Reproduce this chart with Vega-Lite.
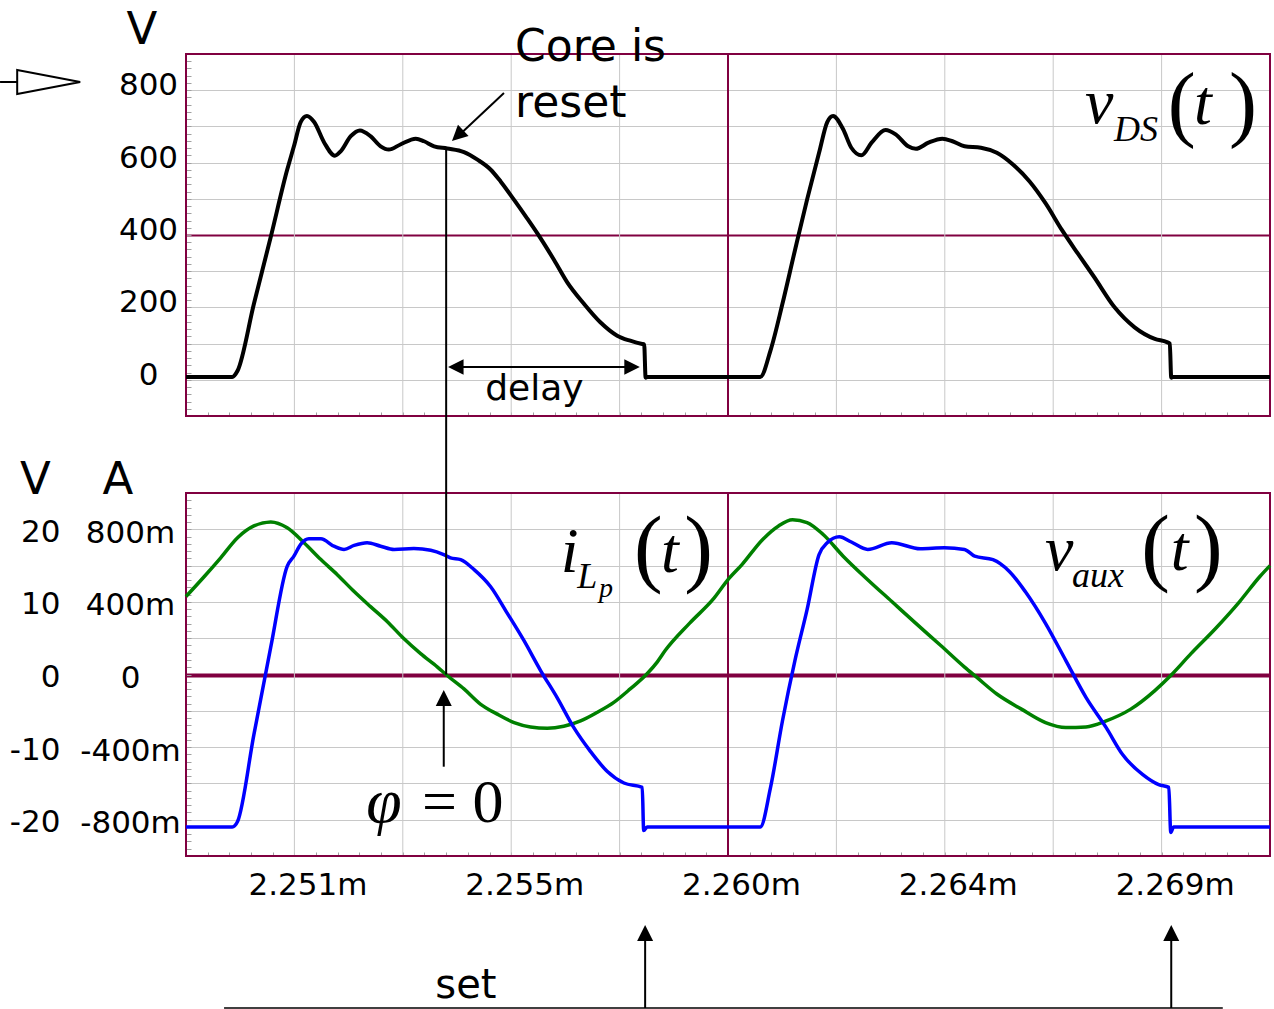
{
  "$schema": "https://vega.github.io/schema/vega-lite/v6.json",
  "width": 1084,
  "height": 802,
  "autosize": {"type": "none"},
  "padding": {"left": 186, "top": 54, "right": 4, "bottom": 153},
  "background": "white",
  "config": {"view": {"stroke": null}},
  "datasets": {
    "vgrid": [{"t": 2251}, {"t": 2253.25}, {"t": 2255.5}, {"t": 2257.75}, {"t": 2262.25}, {"t": 2264.5}, {"t": 2266.75}, {"t": 2269}],
    "center": [{"t": 2260}],
    "vds": [
      {"t": 2248.75, "v": 8}, {"t": 2249.71, "v": 8}, {"t": 2249.82, "v": 25}, {"t": 2250.16, "v": 210}, {"t": 2250.51, "v": 395}, {"t": 2250.85, "v": 580}, {"t": 2250.99, "v": 645}, {"t": 2251.13, "v": 712}, {"t": 2251.26, "v": 729}, {"t": 2251.41, "v": 712}, {"t": 2251.62, "v": 655}, {"t": 2251.84, "v": 619}, {"t": 2251.96, "v": 631}, {"t": 2252.17, "v": 673}, {"t": 2252.36, "v": 689}, {"t": 2252.58, "v": 673}, {"t": 2252.79, "v": 645}, {"t": 2252.96, "v": 636}, {"t": 2253.2, "v": 650}, {"t": 2253.52, "v": 666}, {"t": 2253.69, "v": 659}, {"t": 2253.9, "v": 645}, {"t": 2254.17, "v": 639}, {"t": 2254.52, "v": 629}, {"t": 2254.8, "v": 608}, {"t": 2255.07, "v": 581}, {"t": 2255.28, "v": 548}, {"t": 2255.56, "v": 497}, {"t": 2255.83, "v": 446}, {"t": 2256.04, "v": 405}, {"t": 2256.39, "v": 331}, {"t": 2256.66, "v": 270}, {"t": 2257.01, "v": 210}, {"t": 2257.35, "v": 159}, {"t": 2257.7, "v": 122}, {"t": 2257.97, "v": 108}, {"t": 2258.22, "v": 99}, {"t": 2258.26, "v": 98}, {"t": 2258.29, "v": 6}, {"t": 2258.33, "v": 8},
      {"t": 2260.67, "v": 8}, {"t": 2260.88, "v": 80}, {"t": 2261.13, "v": 210}, {"t": 2261.39, "v": 358}, {"t": 2261.64, "v": 497}, {"t": 2261.89, "v": 627}, {"t": 2262.06, "v": 712}, {"t": 2262.18, "v": 729}, {"t": 2262.39, "v": 692}, {"t": 2262.56, "v": 641}, {"t": 2262.77, "v": 620}, {"t": 2262.98, "v": 655}, {"t": 2263.27, "v": 690}, {"t": 2263.48, "v": 678}, {"t": 2263.74, "v": 645}, {"t": 2263.9, "v": 638}, {"t": 2264.16, "v": 655}, {"t": 2264.45, "v": 666}, {"t": 2264.66, "v": 659}, {"t": 2264.91, "v": 645}, {"t": 2265.25, "v": 641}, {"t": 2265.58, "v": 627}, {"t": 2265.92, "v": 594}, {"t": 2266.26, "v": 548}, {"t": 2266.59, "v": 488}, {"t": 2266.93, "v": 414}, {"t": 2267.26, "v": 349}, {"t": 2267.6, "v": 284}, {"t": 2268.02, "v": 201}, {"t": 2268.44, "v": 145}, {"t": 2268.86, "v": 113}, {"t": 2269.11, "v": 104}, {"t": 2269.17, "v": 100}, {"t": 2269.2, "v": 6}, {"t": 2269.24, "v": 8}, {"t": 2271.25, "v": 8}
    ],
    "ilp": [
      {"t": 2248.75, "i": -0.84}, {"t": 2249.71, "i": -0.84}, {"t": 2249.82, "i": -0.81}, {"t": 2250.16, "i": -0.33}, {"t": 2250.51, "i": 0.152}, {"t": 2250.85, "i": 0.596}, {"t": 2250.99, "i": 0.652}, {"t": 2251.13, "i": 0.717}, {"t": 2251.3, "i": 0.748}, {"t": 2251.55, "i": 0.748}, {"t": 2251.82, "i": 0.707}, {"t": 2252.03, "i": 0.689}, {"t": 2252.24, "i": 0.711}, {"t": 2252.51, "i": 0.726}, {"t": 2252.79, "i": 0.707}, {"t": 2253.07, "i": 0.689}, {"t": 2253.48, "i": 0.694}, {"t": 2253.83, "i": 0.685}, {"t": 2254.1, "i": 0.661}, {"t": 2254.24, "i": 0.643}, {"t": 2254.45, "i": 0.633}, {"t": 2254.73, "i": 0.578}, {"t": 2255.07, "i": 0.485}, {"t": 2255.42, "i": 0.337}, {"t": 2255.76, "i": 0.189}, {"t": 2256.11, "i": 0.022}, {"t": 2256.45, "i": -0.126}, {"t": 2256.8, "i": -0.293}, {"t": 2257.14, "i": -0.422}, {"t": 2257.49, "i": -0.533}, {"t": 2257.84, "i": -0.598}, {"t": 2258.22, "i": -0.622}, {"t": 2258.25, "i": -0.86}, {"t": 2258.32, "i": -0.84},
      {"t": 2260.67, "i": -0.84}, {"t": 2260.88, "i": -0.626}, {"t": 2261.13, "i": -0.256}, {"t": 2261.39, "i": 0.078}, {"t": 2261.64, "i": 0.356}, {"t": 2261.89, "i": 0.661}, {"t": 2262.06, "i": 0.726}, {"t": 2262.31, "i": 0.759}, {"t": 2262.56, "i": 0.73}, {"t": 2262.9, "i": 0.689}, {"t": 2263.4, "i": 0.726}, {"t": 2263.99, "i": 0.693}, {"t": 2264.49, "i": 0.698}, {"t": 2264.91, "i": 0.689}, {"t": 2265.12, "i": 0.652}, {"t": 2265.5, "i": 0.633}, {"t": 2265.84, "i": 0.568}, {"t": 2266.17, "i": 0.457}, {"t": 2266.59, "i": 0.282}, {"t": 2267.01, "i": 0.078}, {"t": 2267.43, "i": -0.126}, {"t": 2267.85, "i": -0.293}, {"t": 2268.19, "i": -0.441}, {"t": 2268.61, "i": -0.552}, {"t": 2268.94, "i": -0.607}, {"t": 2269.15, "i": -0.622}, {"t": 2269.19, "i": -0.87}, {"t": 2269.25, "i": -0.84}, {"t": 2271.25, "i": -0.84}
    ],
    "vaux": [
      {"t": 2248.75, "v": 10.74}, {"t": 2249.13, "v": 13.5}, {"t": 2249.47, "v": 16.07}, {"t": 2249.82, "v": 18.84}, {"t": 2250.16, "v": 20.46}, {"t": 2250.51, "v": 21.0}, {"t": 2250.85, "v": 20.2}, {"t": 2251.2, "v": 18.15}, {"t": 2251.55, "v": 15.83}, {"t": 2251.89, "v": 13.75}, {"t": 2252.24, "v": 11.43}, {"t": 2252.58, "v": 9.35}, {"t": 2252.93, "v": 7.27}, {"t": 2253.27, "v": 4.95}, {"t": 2253.62, "v": 2.87}, {"t": 2253.97, "v": 1.02}, {"t": 2254.17, "v": -0.14}, {"t": 2254.52, "v": -1.99}, {"t": 2254.86, "v": -4.07}, {"t": 2255.21, "v": -5.46}, {"t": 2255.56, "v": -6.62}, {"t": 2255.9, "v": -7.22}, {"t": 2256.25, "v": -7.41}, {"t": 2256.59, "v": -7.13}, {"t": 2256.94, "v": -6.39}, {"t": 2257.28, "v": -5.23}, {"t": 2257.63, "v": -3.84}, {"t": 2257.97, "v": -1.99}, {"t": 2258.32, "v": 0.1}, {"t": 2258.53, "v": 1.71}, {"t": 2258.7, "v": 3.33}, {"t": 2259.2, "v": 7.04}, {"t": 2259.71, "v": 10.51}, {"t": 2260.0, "v": 13.06}, {"t": 2260.29, "v": 15.14}, {"t": 2260.72, "v": 18.6}, {"t": 2261.05, "v": 20.46}, {"t": 2261.34, "v": 21.3}, {"t": 2261.64, "v": 20.93}, {"t": 2261.97, "v": 19.31}, {"t": 2262.39, "v": 16.3}, {"t": 2262.9, "v": 13.06}, {"t": 2263.4, "v": 10.05}, {"t": 2263.9, "v": 7.04}, {"t": 2264.41, "v": 4.03}, {"t": 2264.91, "v": 1.02}, {"t": 2265.16, "v": -0.37}, {"t": 2265.58, "v": -2.69}, {"t": 2266.09, "v": -4.77}, {"t": 2266.59, "v": -6.62}, {"t": 2267.01, "v": -7.31}, {"t": 2267.43, "v": -7.22}, {"t": 2267.85, "v": -6.39}, {"t": 2268.36, "v": -4.77}, {"t": 2268.86, "v": -2.22}, {"t": 2269.19, "v": -0.14}, {"t": 2269.61, "v": 2.87}, {"t": 2270.12, "v": 6.34}, {"t": 2270.62, "v": 10.05}, {"t": 2271.04, "v": 13.5}, {"t": 2271.25, "v": 15.0}
    ]
  },
  "layer": [
    {
      "data": {"name": "vgrid"},
      "mark": {"type": "rule", "color": "#c8c8c8", "strokeWidth": 1},
      "encoding": {
        "x": {"field": "t", "type": "quantitative", "scale": {"domain": [2248.75, 2271.25], "nice": false, "zero": false}, "axis": null},
        "y": {"datum": -100, "type": "quantitative", "scale": {"domain": [-100, 900], "range": [362, 0], "nice": false, "zero": false}, "axis": null},
        "y2": {"datum": 900}
      }
    },
    {
      "data": {"name": "vgrid"},
      "mark": {"type": "rule", "color": "#c8c8c8", "strokeWidth": 1},
      "encoding": {
        "x": {"field": "t", "type": "quantitative", "scale": {"domain": [2248.75, 2271.25], "nice": false, "zero": false}, "axis": null},
        "y": {"datum": -25, "type": "quantitative", "scale": {"domain": [-25, 25], "range": [802, 439], "nice": false, "zero": false}, "axis": null},
        "y2": {"datum": 25}
      }
    },
    {
      "data": {"name": "center"},
      "mark": {"type": "rule", "color": "#800040", "strokeWidth": 2},
      "encoding": {
        "x": {"field": "t", "type": "quantitative", "scale": {"domain": [2248.75, 2271.25], "nice": false, "zero": false}, "axis": null},
        "y": {"datum": -100, "type": "quantitative", "scale": {"domain": [-100, 900], "range": [362, 0], "nice": false, "zero": false}, "axis": null},
        "y2": {"datum": 900}
      }
    },
    {
      "data": {"name": "center"},
      "mark": {"type": "rule", "color": "#800040", "strokeWidth": 2},
      "encoding": {
        "x": {"field": "t", "type": "quantitative", "scale": {"domain": [2248.75, 2271.25], "nice": false, "zero": false}, "axis": null},
        "y": {"datum": -25, "type": "quantitative", "scale": {"domain": [-25, 25], "range": [802, 439], "nice": false, "zero": false}, "axis": null},
        "y2": {"datum": 25}
      }
    },
    {
      "data": {"values": [{}]},
      "mark": {"type": "rect", "fill": "transparent", "stroke": "#800040", "strokeWidth": 2},
      "encoding": {
        "x": {"datum": 2248.75, "type": "quantitative", "scale": {"domain": [2248.75, 2271.25], "nice": false, "zero": false}, "axis": null},
        "x2": {"datum": 2271.25},
        "y": {"datum": -100, "type": "quantitative", "scale": {"domain": [-100, 900], "range": [362, 0], "nice": false, "zero": false}, "axis": null},
        "y2": {"datum": 900}
      }
    },
    {
      "data": {"values": [{}]},
      "mark": {"type": "rect", "fill": "transparent", "stroke": "#800040", "strokeWidth": 2},
      "encoding": {
        "x": {"datum": 2248.75, "type": "quantitative", "scale": {"domain": [2248.75, 2271.25], "nice": false, "zero": false}, "axis": null},
        "x2": {"datum": 2271.25},
        "y": {"datum": -25, "type": "quantitative", "scale": {"domain": [-25, 25], "range": [802, 439], "nice": false, "zero": false}, "axis": null},
        "y2": {"datum": 25}
      }
    },
    {
      "data": {"name": "vds"},
      "mark": {"type": "line", "color": "black", "strokeWidth": 4, "strokeJoin": "round", "interpolate": "monotone"},
      "encoding": {
        "x": {"field": "t", "type": "quantitative", "scale": {"domain": [2248.75, 2271.25], "nice": false, "zero": false},
          "axis": {"orient": "bottom", "offset": -440, "values": [2248.75, 2249.2, 2249.65, 2250.1, 2250.55, 2251, 2251.45, 2251.9, 2252.35, 2252.8, 2253.25, 2253.7, 2254.15, 2254.6, 2255.05, 2255.5, 2255.95, 2256.4, 2256.85, 2257.3, 2257.75, 2258.2, 2258.65, 2259.1, 2259.55, 2260, 2260.45, 2260.9, 2261.35, 2261.8, 2262.25, 2262.7, 2263.15, 2263.6, 2264.05, 2264.5, 2264.95, 2265.4, 2265.85, 2266.3, 2266.75, 2267.2, 2267.65, 2268.1, 2268.55, 2269, 2269.45, 2269.9, 2270.35, 2270.8, 2271.25], "labels": false, "domain": false, "grid": false, "ticks": true, "tickSize": -4, "tickColor": "#a0a0a0", "tickWidth": 1, "title": null}},
        "y": {"field": "v", "type": "quantitative", "scale": {"domain": [-100, 900], "range": [362, 0], "nice": false, "zero": false},
          "axis": {"orient": "left", "values": [-100, -80, -60, -40, -20, 0, 20, 40, 60, 80, 100, 120, 140, 160, 180, 200, 220, 240, 260, 280, 300, 320, 340, 360, 380, 400, 420, 440, 460, 480, 500, 520, 540, 560, 580, 600, 620, 640, 660, 680, 700, 720, 740, 760, 780, 800, 820, 840, 860, 880, 900],
            "domain": false, "ticks": true, "tickSize": -5, "tickColor": "#a0a0a0", "tickWidth": 1,
            "grid": true,
            "gridColor": {"condition": {"test": "datum.value === 400", "value": "#800040"}, "value": "#c8c8c8"},
            "gridWidth": {"condition": {"test": "datum.value === 400", "value": 2}, "value": 1},
            "gridOpacity": {"condition": {"test": "datum.value % 100 === 0", "value": 1}, "value": 0},
            "labelExpr": "datum.value >= 0 && datum.value <= 800 && datum.value % 200 === 0 ? '' + datum.value : ''",
            "labelAlign": "center", "labelBaseline": "middle", "labelPadding": 43, "labelOffset": -4.5,
            "labelFont": "DejaVu Sans", "labelFontSize": 31, "labelColor": "black", "labelOverlap": false, "labelFlush": false,
            "title": "V", "titleAngle": 0, "titleX": -44.5, "titleY": -11, "titleAlign": "center", "titleBaseline": "alphabetic",
            "titleFont": "DejaVu Sans", "titleFontSize": 45, "titleFontWeight": "normal", "titleColor": "black"}}
      }
    },
    {
      "data": {"name": "vaux"},
      "mark": {"type": "line", "color": "#008000", "strokeWidth": 3.5, "strokeJoin": "round", "interpolate": "monotone"},
      "encoding": {
        "x": {"field": "t", "type": "quantitative", "scale": {"domain": [2248.75, 2271.25], "nice": false, "zero": false},
          "axis": {"orient": "bottom", "offset": 0, "values": [2248.75, 2249.2, 2249.65, 2250.1, 2250.55, 2251, 2251.45, 2251.9, 2252.35, 2252.8, 2253.25, 2253.7, 2254.15, 2254.6, 2255.05, 2255.5, 2255.95, 2256.4, 2256.85, 2257.3, 2257.75, 2258.2, 2258.65, 2259.1, 2259.55, 2260, 2260.45, 2260.9, 2261.35, 2261.8, 2262.25, 2262.7, 2263.15, 2263.6, 2264.05, 2264.5, 2264.95, 2265.4, 2265.85, 2266.3, 2266.75, 2267.2, 2267.65, 2268.1, 2268.55, 2269, 2269.45, 2269.9, 2270.35, 2270.8, 2271.25],
            "domain": false, "grid": false, "ticks": true, "tickSize": -4, "tickColor": "#a0a0a0", "tickWidth": 1,
            "labelExpr": "indexof([2251, 2255.5, 2260, 2264.5, 2269], datum.value) >= 0 ? format(floor(datum.value + 0.001) / 1000, '.3f') + 'm' : ''",
            "labelAlign": "center", "labelBaseline": "alphabetic", "labelPadding": 42, "labelOffset": 13,
            "labelFont": "DejaVu Sans", "labelFontSize": 31, "labelColor": "black", "labelOverlap": false, "labelFlush": false, "title": null}},
        "y": {"field": "v", "type": "quantitative", "scale": {"domain": [-25, 25], "range": [802, 439], "nice": false, "zero": false},
          "axis": {"orient": "left", "values": [-25, -24, -23, -22, -21, -20, -19, -18, -17, -16, -15, -14, -13, -12, -11, -10, -9, -8, -7, -6, -5, -4, -3, -2, -1, 0, 1, 2, 3, 4, 5, 6, 7, 8, 9, 10, 11, 12, 13, 14, 15, 16, 17, 18, 19, 20, 21, 22, 23, 24, 25],
            "domain": false, "ticks": true, "tickSize": -5, "tickColor": "#a0a0a0", "tickWidth": 1,
            "grid": true,
            "gridColor": {"condition": {"test": "datum.value === 0", "value": "#800040"}, "value": "#c8c8c8"},
            "gridWidth": {"condition": {"test": "datum.value === 0", "value": 4}, "value": 1},
            "gridOpacity": {"condition": {"test": "datum.value % 5 === 0", "value": 1}, "value": 0},
            "labelExpr": "datum.value % 10 === 0 && abs(datum.value) <= 20 ? (datum.value < 0 ? '-' : '') + abs(datum.value) : ''",
            "labelAlign": "right", "labelBaseline": "middle", "labelPadding": 131, "labelOffset": 3,
            "labelFont": "DejaVu Sans", "labelFontSize": 31, "labelColor": "black", "labelOverlap": false, "labelFlush": false,
            "title": "V", "titleAngle": 0, "titleX": -151, "titleY": 439, "titleAlign": "center", "titleBaseline": "alphabetic",
            "titleFont": "DejaVu Sans", "titleFontSize": 45, "titleFontWeight": "normal", "titleColor": "black"}}
      }
    },
    {
      "data": {"name": "ilp"},
      "mark": {"type": "line", "color": "#0000ff", "strokeWidth": 3.5, "strokeJoin": "round", "interpolate": "monotone"},
      "encoding": {
        "x": {"field": "t", "type": "quantitative", "scale": {"domain": [2248.75, 2271.25], "nice": false, "zero": false}, "axis": null},
        "y": {"field": "i", "type": "quantitative", "scale": {"domain": [-1, 1], "range": [802, 439], "nice": false, "zero": false},
          "axis": {"orient": "left", "values": [-0.8, -0.4, 0, 0.4, 0.8], "domain": false, "ticks": false, "tickSize": 0, "grid": false,
            "labelExpr": "datum.value === 0 ? '0' : (datum.value < 0 ? '-' : '') + format(abs(datum.value) * 1000, 'd') + 'm'",
            "labelAlign": "center", "labelBaseline": "middle", "labelPadding": 56, "labelOffset": 4,
            "labelFont": "DejaVu Sans", "labelFontSize": 31, "labelColor": "black", "labelOverlap": false, "labelFlush": false,
            "title": "A", "titleAngle": 0, "titleX": -68.5, "titleY": 439, "titleAlign": "center", "titleBaseline": "alphabetic",
            "titleFont": "DejaVu Sans", "titleFontSize": 45, "titleFontWeight": "normal", "titleColor": "black"}}
      }
    },
    {
      "data": {"values": [{"t": 2255.35, "v": 792.3, "t2": 2254.4, "v2": 673.5}, {"t": 2254.3, "v": 35.4, "t2": 2258.05, "v2": 35.4}, {"t": 2244.89, "v": 822.7, "t2": 2245.3, "v2": 822.7}]},
      "mark": {"type": "rule", "color": "black", "strokeWidth": 2},
      "encoding": {
        "x": {"field": "t", "type": "quantitative", "scale": {"domain": [2248.75, 2271.25], "nice": false, "zero": false}, "axis": null},
        "x2": {"field": "t2"},
        "y": {"field": "v", "type": "quantitative", "scale": {"domain": [-100, 900], "range": [362, 0], "nice": false, "zero": false}, "axis": null},
        "y2": {"field": "v2"}
      }
    },
    {
      "data": {"values": [{"t": 2254.27, "v": 659.7, "dir": 227}, {"t": 2254.19, "v": 35.4, "dir": 270}, {"t": 2258.17, "v": 35.4, "dir": 90}]},
      "mark": {"type": "point", "shape": "M0,0L-0.5,1L0.5,1Z", "filled": true, "color": "black", "size": 961, "opacity": 1, "strokeWidth": 0},
      "encoding": {
        "x": {"field": "t", "type": "quantitative", "scale": {"domain": [2248.75, 2271.25], "nice": false, "zero": false}, "axis": null},
        "y": {"field": "v", "type": "quantitative", "scale": {"domain": [-100, 900], "range": [362, 0], "nice": false, "zero": false}, "axis": null},
        "angle": {"field": "dir", "type": "quantitative", "scale": null}
      }
    },
    {
      "data": {"values": [{"t": 2245.9, "v": 822.7}]},
      "mark": {"type": "point", "shape": "M-1,-0.381L1,0L-1,0.381Z", "size": 3969, "fill": "white", "stroke": "black", "strokeWidth": 2, "opacity": 1, "fillOpacity": 1},
      "encoding": {
        "x": {"field": "t", "type": "quantitative", "scale": {"domain": [2248.75, 2271.25], "nice": false, "zero": false}, "axis": null},
        "y": {"field": "v", "type": "quantitative", "scale": {"domain": [-100, 900], "range": [362, 0], "nice": false, "zero": false}, "axis": null}
      }
    },
    {
      "data": {"values": [{"t": 2255.58, "v": 880.7, "label": "Core is"}, {"t": 2255.58, "v": 726.0, "label": "reset"}]},
      "mark": {"type": "text", "align": "left", "baseline": "alphabetic", "font": "DejaVu Sans", "fontSize": 44, "color": "black"},
      "encoding": {
        "x": {"field": "t", "type": "quantitative", "scale": {"domain": [2248.75, 2271.25], "nice": false, "zero": false}, "axis": null},
        "y": {"field": "v", "type": "quantitative", "scale": {"domain": [-100, 900], "range": [362, 0], "nice": false, "zero": false}, "axis": null},
        "text": {"field": "label"}
      }
    },
    {
      "data": {"values": [{"t": 2255.98, "v": -55.8, "label": "delay"}]},
      "mark": {"type": "text", "align": "center", "baseline": "alphabetic", "font": "DejaVu Sans", "fontSize": 36, "color": "black"},
      "encoding": {
        "x": {"field": "t", "type": "quantitative", "scale": {"domain": [2248.75, 2271.25], "nice": false, "zero": false}, "axis": null},
        "y": {"field": "v", "type": "quantitative", "scale": {"domain": [-100, 900], "range": [362, 0], "nice": false, "zero": false}, "axis": null},
        "text": {"field": "label"}
      }
    },
    {
      "data": {"values": [{"t": 2267.41, "v": 709.4, "label": "v"}, {"t": 2269.67, "v": 706.6, "label": "t"}]},
      "mark": {"type": "text", "align": "left", "baseline": "alphabetic", "font": "Liberation Serif", "fontStyle": "italic", "fontSize": 64, "color": "black"},
      "encoding": {
        "x": {"field": "t", "type": "quantitative", "scale": {"domain": [2248.75, 2271.25], "nice": false, "zero": false}, "axis": null},
        "y": {"field": "v", "type": "quantitative", "scale": {"domain": [-100, 900], "range": [362, 0], "nice": false, "zero": false}, "axis": null},
        "text": {"field": "label"}
      }
    },
    {
      "data": {"values": [{"t": 2268.01, "v": 659.7, "label": "DS"}]},
      "mark": {"type": "text", "align": "left", "baseline": "alphabetic", "font": "Liberation Serif", "fontStyle": "italic", "fontSize": 36, "color": "black"},
      "encoding": {
        "x": {"field": "t", "type": "quantitative", "scale": {"domain": [2248.75, 2271.25], "nice": false, "zero": false}, "axis": null},
        "y": {"field": "v", "type": "quantitative", "scale": {"domain": [-100, 900], "range": [362, 0], "nice": false, "zero": false}, "axis": null},
        "text": {"field": "label"}
      }
    },
    {
      "data": {"values": [{"t": 2269.13, "v": 687.3, "label": "("}, {"t": 2270.4, "v": 687.3, "label": ")"}]},
      "mark": {"type": "text", "align": "left", "baseline": "alphabetic", "font": "Liberation Serif", "fontSize": 84, "color": "black"},
      "encoding": {
        "x": {"field": "t", "type": "quantitative", "scale": {"domain": [2248.75, 2271.25], "nice": false, "zero": false}, "axis": null},
        "y": {"field": "v", "type": "quantitative", "scale": {"domain": [-100, 900], "range": [362, 0], "nice": false, "zero": false}, "axis": null},
        "text": {"field": "label"}
      }
    },
    {
      "data": {"values": [{"t": 2254.15, "v": 0, "t2": 2254.15, "v2": 72.24}, {"t": 2254.1, "v": -12.7, "t2": 2254.1, "v2": -4.3}, {"t": 2258.28, "v": -45.94, "t2": 2258.28, "v2": -36.6}, {"t": 2269.2, "v": -45.94, "t2": 2269.2, "v2": -36.6}]},
      "mark": {"type": "rule", "color": "black", "strokeWidth": 2},
      "encoding": {
        "x": {"field": "t", "type": "quantitative", "scale": {"domain": [2248.75, 2271.25], "nice": false, "zero": false}, "axis": null},
        "x2": {"field": "t2"},
        "y": {"field": "v", "type": "quantitative", "scale": {"domain": [-25, 25], "range": [802, 439], "nice": false, "zero": false}, "axis": null},
        "y2": {"field": "v2"}
      }
    },
    {
      "data": {"values": [{"t": 2249.54, "v": -45.94, "t2": 2270.27, "v2": -45.94}]},
      "mark": {"type": "rule", "color": "black", "strokeWidth": 1.5},
      "encoding": {
        "x": {"field": "t", "type": "quantitative", "scale": {"domain": [2248.75, 2271.25], "nice": false, "zero": false}, "axis": null},
        "x2": {"field": "t2"},
        "y": {"field": "v", "type": "quantitative", "scale": {"domain": [-25, 25], "range": [802, 439], "nice": false, "zero": false}, "axis": null},
        "y2": {"field": "v2"}
      }
    },
    {
      "data": {"values": [{"t": 2254.1, "v": -2.13, "dir": 0}, {"t": 2258.28, "v": -34.5, "dir": 0}, {"t": 2269.2, "v": -34.5, "dir": 0}]},
      "mark": {"type": "point", "shape": "M0,0L-0.5,1L0.5,1Z", "filled": true, "color": "black", "size": 1024, "opacity": 1, "strokeWidth": 0},
      "encoding": {
        "x": {"field": "t", "type": "quantitative", "scale": {"domain": [2248.75, 2271.25], "nice": false, "zero": false}, "axis": null},
        "y": {"field": "v", "type": "quantitative", "scale": {"domain": [-25, 25], "range": [802, 439], "nice": false, "zero": false}, "axis": null},
        "angle": {"field": "dir", "type": "quantitative", "scale": null}
      }
    },
    {
      "data": {"values": [{"t": 2254.56, "v": -44.6, "label": "set"}]},
      "mark": {"type": "text", "align": "center", "baseline": "alphabetic", "font": "DejaVu Sans", "fontSize": 40, "color": "black"},
      "encoding": {
        "x": {"field": "t", "type": "quantitative", "scale": {"domain": [2248.75, 2271.25], "nice": false, "zero": false}, "axis": null},
        "y": {"field": "v", "type": "quantitative", "scale": {"domain": [-25, 25], "range": [802, 439], "nice": false, "zero": false}, "axis": null},
        "text": {"field": "label"}
      }
    },
    {
      "data": {"values": [{"t": 2256.53, "v": 14.16, "label": "i"}, {"t": 2258.61, "v": 14.16, "label": "t"}, {"t": 2266.58, "v": 14.39, "label": "v"}, {"t": 2269.19, "v": 14.39, "label": "t"}, {"t": 2252.49, "v": -20.32, "label": "φ"}]},
      "mark": {"type": "text", "align": "left", "baseline": "alphabetic", "font": "Liberation Serif", "fontStyle": "italic", "fontSize": 64, "color": "black"},
      "encoding": {
        "x": {"field": "t", "type": "quantitative", "scale": {"domain": [2248.75, 2271.25], "nice": false, "zero": false}, "axis": null},
        "y": {"field": "v", "type": "quantitative", "scale": {"domain": [-25, 25], "range": [802, 439], "nice": false, "zero": false}, "axis": null},
        "text": {"field": "label"}
      }
    },
    {
      "data": {"values": [{"t": 2253.65, "v": -20.32, "label": "= 0"}]},
      "mark": {"type": "text", "align": "left", "baseline": "alphabetic", "font": "Liberation Serif", "fontSize": 62, "color": "black"},
      "encoding": {
        "x": {"field": "t", "type": "quantitative", "scale": {"domain": [2248.75, 2271.25], "nice": false, "zero": false}, "axis": null},
        "y": {"field": "v", "type": "quantitative", "scale": {"domain": [-25, 25], "range": [802, 439], "nice": false, "zero": false}, "axis": null},
        "text": {"field": "label"}
      }
    },
    {
      "data": {"values": [{"t": 2256.87, "v": 11.91, "label": "L"}, {"t": 2267.14, "v": 12.09, "label": "aux"}]},
      "mark": {"type": "text", "align": "left", "baseline": "alphabetic", "font": "Liberation Serif", "fontStyle": "italic", "fontSize": 36, "color": "black"},
      "encoding": {
        "x": {"field": "t", "type": "quantitative", "scale": {"domain": [2248.75, 2271.25], "nice": false, "zero": false}, "axis": null},
        "y": {"field": "v", "type": "quantitative", "scale": {"domain": [-25, 25], "range": [802, 439], "nice": false, "zero": false}, "axis": null},
        "text": {"field": "label"}
      }
    },
    {
      "data": {"values": [{"t": 2257.32, "v": 10.67, "label": "p"}]},
      "mark": {"type": "text", "align": "left", "baseline": "alphabetic", "font": "Liberation Serif", "fontStyle": "italic", "fontSize": 28, "color": "black"},
      "encoding": {
        "x": {"field": "t", "type": "quantitative", "scale": {"domain": [2248.75, 2271.25], "nice": false, "zero": false}, "axis": null},
        "y": {"field": "v", "type": "quantitative", "scale": {"domain": [-25, 25], "range": [802, 439], "nice": false, "zero": false}, "axis": null},
        "text": {"field": "label"}
      }
    },
    {
      "data": {"values": [{"t": 2258.05, "v": 13.5, "label": "("}, {"t": 2259.09, "v": 13.5, "label": ")"}, {"t": 2268.58, "v": 13.73, "label": "("}, {"t": 2269.67, "v": 13.73, "label": ")"}]},
      "mark": {"type": "text", "align": "left", "baseline": "alphabetic", "font": "Liberation Serif", "fontSize": 86, "color": "black"},
      "encoding": {
        "x": {"field": "t", "type": "quantitative", "scale": {"domain": [2248.75, 2271.25], "nice": false, "zero": false}, "axis": null},
        "y": {"field": "v", "type": "quantitative", "scale": {"domain": [-25, 25], "range": [802, 439], "nice": false, "zero": false}, "axis": null},
        "text": {"field": "label"}
      }
    }
  ],
  "resolve": {"scale": {"x": "independent", "y": "independent"}, "axis": {"x": "independent", "y": "independent"}}
}
